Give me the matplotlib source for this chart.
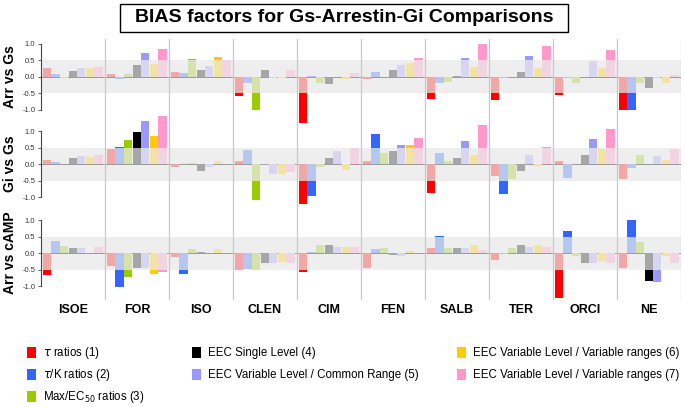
import numpy as np
import matplotlib
matplotlib.use("Agg")
import matplotlib.pyplot as plt

plt.rcParams['font.family'] = ['Liberation Sans', 'DejaVu Sans']

# ============================================
# Data
drugs = ['ISOE', 'FOR', 'ISO', 'CLEN', 'CIM', 'FEN', 'SALB', 'TER', 'ORCI', 'NE']
panel_names = ['Arr vs Gs', 'Gi vs Gs', 'Arr vs cAMP']

legend_labels = [r'$\tau$ ratios (1)', r'$\tau$/K ratios (2)', r'Max/EC$_{50}$ ratios (3)',
                 'EEC Single Level (4)', 'EEC Variable Level / Common Range (5)',
                 'EEC Variable Level / Variable ranges (6)', 'EEC Variable Level / Variable ranges (7)']

# rows = drugs, columns = methods 1..7
arr_vs_gs = [
    [0.25, 0.08, -0.04, 0.18, 0.25, 0.25, 0.30],   # ISOE
    [0.07, -0.06, 0.07, 0.35, 0.72, 0.37, 0.85],   # FOR
    [0.13, 0.12, 0.53, 0.21, 0.31, 0.59, 0.50],    # ISO
    [-0.60, -0.19, -1.02, 0.21, -0.05, -0.03, 0.20],  # CLEN
    [-1.42, 0.03, -0.20, -0.22, -0.01, -0.08, 0.10],  # CIM
    [-0.07, 0.14, 0.00, 0.20, 0.36, 0.40, 0.57],   # FEN
    [-0.68, -0.18, -0.16, 0.03, 0.57, 0.28, 1.00],  # SALB
    [-0.72, -0.05, 0.00, 0.13, 0.63, 0.25, 0.93],  # TER
    [-0.55, -0.03, -0.18, 0.00, 0.47, 0.25, 0.80],  # ORCI
    [-1.00, -1.02, -0.18, -0.35, -0.05, -0.20, 0.05],  # NE
]
gi_vs_gs = [
    [0.12, 0.05, 0.00, 0.18, 0.25, 0.20, 0.28],
    [0.45, 0.52, 0.73, 0.97, 1.32, 0.85, 1.45],
    [-0.08, 0.00, 0.03, -0.20, -0.10, 0.08, 0.00],
    [0.10, 0.42, -1.10, -0.02, -0.30, -0.30, -0.25],
    [-1.20, -0.98, -0.10, 0.18, 0.40, -0.18, 0.50],
    [0.10, 0.92, 0.33, 0.40, 0.57, 0.58, 0.78],
    [-0.88, 0.34, 0.10, 0.17, 0.70, 0.27, 1.17],
    [-0.35, -0.90, -0.45, -0.20, 0.27, -0.05, 0.53],
    [0.08, -0.42, 0.00, 0.27, 0.77, 0.45, 1.07],
    [-0.45, -0.13, 0.27, 0.00, 0.25, 0.13, 0.45],
]
arr_vs_camp = [
    [-0.65, 0.38, 0.22, 0.15, 0.15, 0.00, 0.18],
    [-0.40, -1.02, -0.72, -0.45, -0.45, -0.62, -0.57],
    [-0.13, -0.62, 0.13, 0.04, 0.00, 0.13, 0.00],
    [-0.50, -0.47, -0.50, -0.30, -0.30, -0.28, -0.30],
    [-0.58, 0.04, 0.25, 0.25, 0.20, 0.20, 0.20],
    [-0.45, 0.12, 0.15, -0.05, -0.08, 0.05, 0.00],
    [0.15, 0.53, 0.15, 0.17, 0.15, 0.25, 0.10],
    [-0.20, -0.03, 0.17, 0.25, 0.18, 0.25, 0.20],
    [-1.35, 0.68, -0.10, -0.30, -0.30, -0.25, -0.30],
    [-0.45, 1.00, 0.33, -0.84, -0.87, -0.10, -0.30],
]
panels = [arr_vs_gs, gi_vs_gs, arr_vs_camp]

# ============================================
# Styles
strong = ['#FF0000', '#3366FF', '#99CC00', '#000000', '#9999FF', '#FFCC00', '#FF99CC']
pale = ['#F2A6A6', '#B5C7F1', '#D5E3A8', '#A6A6A6', '#D6D6F3', '#F2E2A3', '#F2D3E2']
offsets = [0.0, -2.65, -5.35]   # vertical shift of each panel
band = 0.5

fig = plt.figure(figsize=(6.85, 4.07), dpi=100)
ax = fig.add_axes([41 / 685, 1 - 300 / 407, 640 / 685, 261 / 407])
ax.set_xlim(0, 10)
ax.set_ylim(-6.77, 1.14)
for s in ax.spines.values():
    s.set_visible(False)

slot = 0.134
bw = 0.128
for p, data in enumerate(panels):
    off = offsets[p]
    ax.axhspan(off - band, off + band, color='#EEEEEE', zorder=0, lw=0)
    ax.axhline(off, color='#9A9A9A', lw=0.7, zorder=1)
    vals = np.array(data)
    for i in range(7):
        x = np.arange(len(drugs)) + 0.03 + i * slot
        v = vals[:, i]
        inner = np.clip(v, -band, band)
        ax.bar(x, inner, width=bw, bottom=off, align='edge', color=pale[i], lw=0, zorder=2)
        outer = np.where(np.abs(v) > band, v - inner, 0)
        ax.bar(x, outer, width=bw, bottom=off + inner, align='edge', color=strong[i], lw=0, zorder=2)
    # panel axis segment
    ax.plot([0, 0], [off - 1, off + 1], color='#444444', lw=0.8, clip_on=False, zorder=3)
    ax.text(-0.48, off, panel_names[p], rotation=90, ha='center', va='center',
            fontsize=10, fontweight='bold')

# group separators
for g in range(1, len(drugs) + 1):
    ax.axvline(g, color='#C8C8C8', lw=0.9, zorder=1)

ticks = [off + t for off in offsets for t in (-1, -0.5, 0, 0.5, 1)]
ax.set_yticks(ticks)
ax.set_yticklabels(['-1.0', '-0.5', '0.0', '0.5', '1.0'] * 3, fontsize=5.5, color='#333333')
ax.tick_params(axis='y', length=2, width=0.6, color='#444444', pad=2)
ax.set_xticks(np.arange(len(drugs)) + 0.5)
ax.set_xticklabels(drugs, fontsize=9, fontweight='bold')
ax.tick_params(axis='x', length=0, pad=3)

# title box
fig.patches.append(plt.Rectangle((120 / 685, 1 - 32 / 407), 448 / 685, 28 / 407,
                                 transform=fig.transFigure, fc='white', ec='black', lw=1.0))
fig.text(344 / 685, 1 - 18 / 407, 'BIAS factors for Gs-Arrestin-Gi Comparisons', ha='center',
         va='center', fontsize=14, fontweight='bold')

# legend
legend_cols = [(27, [0, 1, 2]), (192, [3, 4]), (457, [5, 6])]
for xpx, idxs in legend_cols:
    for r, k in enumerate(idxs):
        ypx = 353 + r * 22
        fig.patches.append(plt.Rectangle((xpx / 685, 1 - (ypx + 5) / 407), 9 / 685, 11 / 407,
                                         transform=fig.transFigure, color=strong[k], lw=0))
        fig.text((xpx + 16) / 685, 1 - ypx / 407, legend_labels[k], fontsize=8.3, va='center')

fig.savefig('out.png', dpi=100)
